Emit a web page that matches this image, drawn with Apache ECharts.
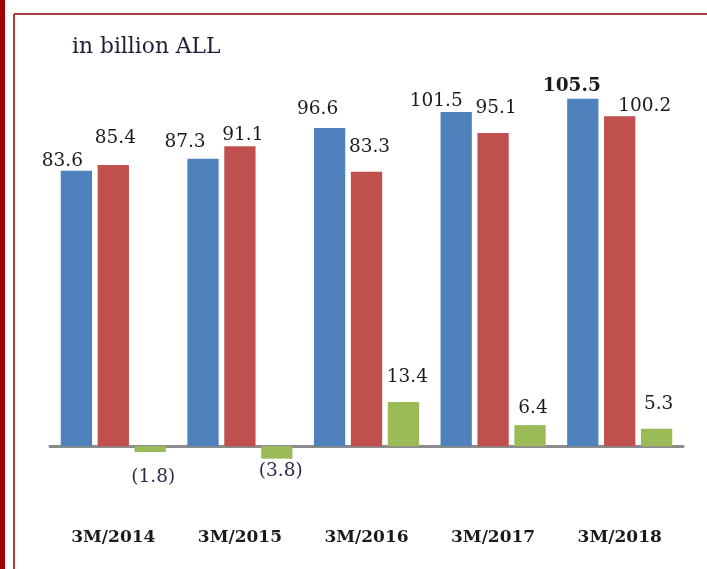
<!DOCTYPE html>
<html>
<head>
<meta charset="utf-8">
<script src="https://cdn.jsdelivr.net/npm/echarts@6/dist/echarts.min.js"></script>
<style>
  html, body { margin: 0; padding: 0; background: #fff; }
  #main { width: 707px; height: 569px; }
</style>
</head>
<body>
<div id="main"></div>
<script>
// periods and series, in billion ALL
var periods = ['3M/2014', '3M/2015', '3M/2016', '3M/2017', '3M/2018'];
var blueValues = [83.6, 87.3, 96.6, 101.5, 105.5];
var redValues = [85.4, 91.1, 83.3, 95.1, 100.2];
var greenValues = [-1.8, -3.8, 13.4, 6.4, 5.3];

// label nudges so the numbers sit like the original
var blueOffsets = [[-14, 5], [-18, -2], [-12, -4], [-20, 4], [-11, 2]];
var redOffsets = [[2, -12], [3, 4], [3, -10], [3, -10], [25, 4]];
var greenOffsets = [[3, 11], [4, -2], [4, -10], [3, -2], [2, -10]];

var labelFont = 'DejaVu Serif';

function fmt(v) {
    return v < 0 ? '(' + Math.abs(v).toFixed(1) + ')' : v.toFixed(1);
}

function makeData(values, offsets, lastBold) {
    return values.map(function (v, i) {
        var neg = v < 0;
        return {
            value: v,
            label: {
                show: true,
                position: neg ? 'bottom' : 'top',
                offset: offsets[i],
                formatter: fmt(v),
                fontFamily: labelFont,
                fontSize: 18.5,
                fontWeight: (lastBold && i === values.length - 1) ? 'bold' : 'normal',
                color: neg ? '#2a2a48' : '#1a1a1a'
            }
        };
    });
}

var myChart = echarts.init(document.getElementById('main'));

var option = {
    backgroundColor: '#fff',
    animation: false,
    grid: { left: 50, right: 24, top: 51, bottom: 57, containLabel: false, outerBoundsMode: 'none' },
    graphic: [
        { type: 'rect', left: 0, top: 0, shape: { width: 5, height: 569 }, style: { fill: '#a00000' } },
        { type: 'line', shape: { x1: 14, y1: 14, x2: 14, y2: 569 }, style: { stroke: '#b23a3a', lineWidth: 2 } },
        { type: 'line', shape: { x1: 14, y1: 14, x2: 707, y2: 14 }, style: { stroke: '#b23a3a', lineWidth: 2 } },
        {
            type: 'text', left: 72, top: 36,
            style: { text: 'in billion ALL', font: '21.8px "DejaVu Serif"', fill: '#1e1e3a' }
        }
    ],
    xAxis: [{
        type: 'category',
        data: periods,
        axisLine: { onZero: true, lineStyle: { color: '#8c8c8c', width: 3 } },
        axisTick: { show: false },
        axisLabel: { show: false }
    }, {
        // category names sit on their own line near the bottom
        type: 'category',
        position: 'bottom',
        data: periods,
        axisLine: { show: false, onZero: false },
        axisTick: { show: false },
        axisLabel: {
            margin: 17,
            fontFamily: labelFont,
            fontWeight: 'bold',
            fontSize: 17,
            color: '#1a1a1a'
        }
    }],
    yAxis: {
        type: 'value',
        min: -20,
        max: 120,
        show: false,
        splitLine: { show: false }
    },
    series: [
        {
            type: 'bar',
            data: makeData(blueValues, blueOffsets, true),
            itemStyle: { color: '#4f81bd' },
            barGap: '18%',
            barCategoryGap: '17%'
        },
        {
            type: 'bar',
            data: makeData(redValues, redOffsets, false),
            itemStyle: { color: '#c0504d' }
        },
        {
            type: 'bar',
            data: makeData(greenValues, greenOffsets, false),
            itemStyle: { color: '#9bbb59' }
        }
    ]
};

myChart.setOption(option);
</script>
</body>
</html>
